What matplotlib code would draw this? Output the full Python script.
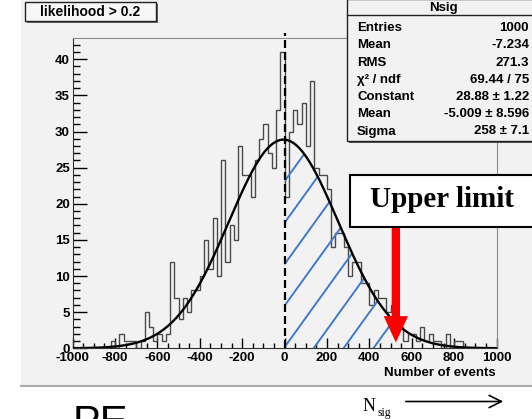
"""
Pseudo-experiment distribution of the fitted signal yield with a gaussian
fit, the integrated region and the upper limit marked.
"""
import numpy as np
import matplotlib.pyplot as plt
from matplotlib.patches import Rectangle, Polygon, FancyArrowPatch
from matplotlib.ticker import MultipleLocator

plt.rcParams["axes.unicode_minus"] = False
plt.rcParams["font.family"] = ["Liberation Sans", "DejaVu Sans"]

# 100 bins from -1000 to 1000
bin_edges = np.linspace(-1000, 1000, 101)
counts = [
    0, 0, 0, 0, 0, 0, 0, 0, 0, 1,
    0, 2, 1, 1, 1, 0, 1, 5, 3, 1,
    2, 1, 2, 12, 7, 4, 7, 5, 8, 8,
    10, 15, 11, 18, 10, 26, 12, 17, 15, 28,
    24, 24, 21, 26, 29, 31, 27, 25, 33, 41,
    21, 30, 33, 31, 34, 28, 37, 25, 24, 24,
    22, 14, 16, 16, 14, 10, 12, 12, 9, 9,
    6, 8, 7, 7, 5, 6, 4, 3, 1, 2,
    2, 1, 3, 1, 2, 1, 1, 0, 2, 0,
    1, 1, 0, 0, 0, 0, 0, 0, 0, 0,
]

# gaussian fit from the stats box
fit_const = 28.88
fit_mean = -5.009
fit_sigma = 258.0
upper_limit = 520

title_text = "likelihood > 0.2"
stats_name = "Nsig"
stats_labels = ["Entries", "Mean", "RMS", "χ² / ndf", "Constant", "Mean", "Sigma"]
stats_values = ["1000", "-7.234", "271.3", "69.44 / 75", "28.88 ± 1.22",
                "-5.009 ± 8.596", "258 ± 7.1"]

W, H = 532, 419
BG = "#f2f2f2"


def fx(x):
    return x / W


def fy(y):
    return 1 - y / H


fig = plt.figure(figsize=(W / 100, H / 100), dpi=100)
fig.patch.set_facecolor("white")

# grey canvas
fig.add_artist(Rectangle((fx(21), fy(385)), 1, 385 / H, transform=fig.transFigure,
                         facecolor=BG, edgecolor="none", zorder=0))
fig.add_artist(plt.Line2D([fx(21), 1], [fy(385.5), fy(385.5)], transform=fig.transFigure,
                          color="#aaaaaa", lw=1.5))

ax = fig.add_axes([fx(72.7), fy(348.3), (496.5 - 72.7) / W, 310 / H])
ax.set_facecolor(BG)

# histogram and fit
ax.stairs(counts, bin_edges, color="#4a4a4a", lw=1.0, zorder=3)
xs = np.linspace(-1000, 1000, 800)
gauss = fit_const * np.exp(-0.5 * ((xs - fit_mean) / fit_sigma) ** 2)
ax.plot(xs, gauss, color="black", lw=1.7, zorder=5)

# hatched region from 0 to the upper limit
sel = (xs >= 0) & (xs <= upper_limit)
verts = [(0, 0)] + list(zip(xs[sel], gauss[sel])) + [(xs[sel][-1], 0)]
region = Polygon(verts, closed=True, facecolor="none", edgecolor="none")
ax.add_patch(region)
slope = 0.0407
for x0 in np.arange(137 - 141 * 8, upper_limit, 141):
    ln, = ax.plot([x0, x0 + 45 / slope], [0, 45], color="#3f7bc9", lw=1.4, zorder=4)
    ln.set_clip_path(region)

# dashed line at zero
ax.plot([0, 0], [0, 43.6], color="black", lw=1.6, ls=(0, (3.6, 1.8)),
        clip_on=False, zorder=6)

ax.set_xlim(-1000, 1000)
ax.set_ylim(0, 42.9)
ax.xaxis.set_major_locator(MultipleLocator(200))
ax.xaxis.set_minor_locator(MultipleLocator(50))
ax.yaxis.set_major_locator(MultipleLocator(5))
ax.yaxis.set_minor_locator(MultipleLocator(1))
ax.tick_params(axis="x", which="major", direction="in", length=7, width=1, pad=3)
ax.tick_params(axis="x", which="minor", direction="in", length=3.5, width=1)
ax.tick_params(axis="y", which="major", direction="in", length=10, width=1, pad=2)
ax.tick_params(axis="y", which="minor", direction="in", length=5, width=1)
for lab in ax.get_xticklabels() + ax.get_yticklabels():
    lab.set_fontsize(9.5)
    lab.set_fontweight("bold")
for side in ["top", "right"]:
    ax.spines[side].set_color("#8c8c8c")
for side in ["left", "bottom"]:
    ax.spines[side].set_color("#333333")

fig.text(fx(496), fy(373), "Number of events", ha="right", va="center",
         fontsize=9.5, fontweight="bold")

# title box
fig.add_artist(Rectangle((fx(27), fy(23)), 131 / W, 19 / H, transform=fig.transFigure,
                         facecolor="#666666", edgecolor="none", zorder=7))
fig.add_artist(Rectangle((fx(25), fy(21)), 131 / W, 19 / H, transform=fig.transFigure,
                         facecolor="#f7f7f7", edgecolor="#222222", lw=1, zorder=8))
fig.text(fx(90.5), fy(11.5), title_text, ha="center", va="center",
         fontsize=10, fontweight="bold", zorder=9)

# stats box
fig.add_artist(Rectangle((fx(349), fy(143)), 200 / W, 143 / H, transform=fig.transFigure,
                         facecolor="#555555", edgecolor="none", zorder=7))
fig.add_artist(Rectangle((fx(347), fy(141)), 200 / W, 142 / H, transform=fig.transFigure,
                         facecolor=BG, edgecolor="#222222", lw=1, zorder=8))
fig.add_artist(plt.Line2D([fx(347), 1], [fy(15.5), fy(15.5)], transform=fig.transFigure,
                          color="#222222", lw=1, zorder=9))
fig.text(fx(443), fy(7.5), stats_name, ha="center", va="center",
         fontsize=9.5, fontweight="bold", zorder=9)
for i, (lab, val) in enumerate(zip(stats_labels, stats_values)):
    yy = 28.3 + i * 17.2
    fig.text(fx(357), fy(yy), lab, ha="left", va="center",
             fontsize=9.5, fontweight="bold", zorder=9)
    fig.text(fx(529), fy(yy), val, ha="right", va="center",
             fontsize=9.5, fontweight="bold", zorder=9)

# upper limit box and arrow
fig.add_artist(Rectangle((fx(350), fy(227)), 200 / W, 52 / H, transform=fig.transFigure,
                         facecolor="white", edgecolor="black", lw=1.5, zorder=8))
fig.text(fx(442), fy(199), "Upper limit", ha="center", va="center",
         fontsize=21, fontweight="bold", family=["Liberation Serif", "DejaVu Serif"],
         zorder=9)
ax.annotate("", xy=(upper_limit + 5, 0.8), xytext=(upper_limit + 5, 16.8),
            arrowprops=dict(width=6, headwidth=17.5, headlength=19,
                            facecolor="red", edgecolor="none"),
            annotation_clip=False, zorder=10)

# bottom slide text
fig.text(fx(363), fy(411), "N", ha="left", va="baseline", fontsize=13,
         family=["Liberation Serif", "DejaVu Serif"])
fig.text(fx(377.5), fy(416), "sig", ha="left", va="baseline", fontsize=8.5,
         family=["Liberation Serif", "DejaVu Serif"])
fig.add_artist(FancyArrowPatch((fx(403), fy(401.5)), (fx(506), fy(401.5)),
                               transform=fig.transFigure, arrowstyle="->",
                               mutation_scale=22, lw=1.2, color="black"))
fig.text(fx(73), fy(404), "PE", ha="left", va="top", fontsize=30)

fig.savefig("out.png", dpi=100, facecolor=fig.get_facecolor())
